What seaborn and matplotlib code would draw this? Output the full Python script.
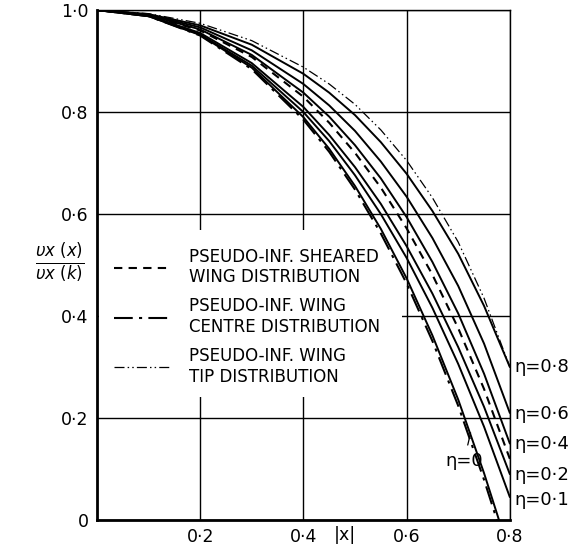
import numpy as np
import pandas as pd
import seaborn as sns
import matplotlib.pyplot as plt
import matplotlib.patches as patches

# abscissae
x_full = [0, 0.1, 0.2, 0.3, 0.4, 0.45, 0.5, 0.55, 0.6, 0.65, 0.7, 0.75, 0.8]
x_centre = [0, 0.1, 0.2, 0.3, 0.4, 0.45, 0.5, 0.55, 0.6, 0.65, 0.7, 0.75, 0.775]
x_eta0 = [0, 0.1, 0.2, 0.3, 0.4, 0.45, 0.5, 0.55, 0.6, 0.65, 0.7, 0.75, 0.779]

# exact curves (solid)
eta_0 = [1.0, 0.988, 0.951, 0.887, 0.790, 0.728, 0.655, 0.571, 0.474, 0.362, 0.236, 0.092, 0.0]
eta_01 = [1.0, 0.988, 0.952, 0.891, 0.800, 0.743, 0.676, 0.600, 0.514, 0.416, 0.306, 0.183, 0.045]
eta_02 = [1.0, 0.989, 0.955, 0.896, 0.810, 0.755, 0.692, 0.620, 0.537, 0.444, 0.339, 0.222, 0.090]
eta_04 = [1.0, 0.990, 0.962, 0.912, 0.838, 0.791, 0.735, 0.670, 0.594, 0.506, 0.405, 0.287, 0.150]
eta_06 = [1.0, 0.991, 0.966, 0.921, 0.855, 0.813, 0.763, 0.703, 0.634, 0.553, 0.459, 0.346, 0.210]
eta_08 = [1.0, 0.992, 0.970, 0.932, 0.875, 0.838, 0.794, 0.741, 0.679, 0.606, 0.522, 0.420, 0.300]

# pseudo-infinite distributions
sheared = [1.0, 0.990, 0.960, 0.908, 0.830, 0.779, 0.720, 0.652, 0.572, 0.481, 0.376, 0.257, 0.120]
centre = [1.0, 0.988, 0.950, 0.884, 0.785, 0.722, 0.648, 0.562, 0.464, 0.351, 0.224, 0.079, 0.0]
tip = [1.0, 0.993, 0.974, 0.940, 0.888, 0.855, 0.815, 0.765, 0.705, 0.632, 0.545, 0.435, 0.300]

eta_labels = ['η=0·8', 'η=0·6', 'η=0·4', 'η=0·2', 'η=0·1']
eta_label_y = [0.300, 0.208, 0.149, 0.088, 0.040]

legend_labels = ['PSEUDO-INF. SHEARED\nWING DISTRIBUTION',
                 'PSEUDO-INF. WING\nCENTRE DISTRIBUTION',
                 'PSEUDO-INF. WING\nTIP DISTRIBUTION']

x_ticks = [0.2, 0.4, 0.6, 0.8]
x_ticklabels = ['0·2', '0·4', '0·6', '0·8']
y_ticks = [0, 0.2, 0.4, 0.6, 0.8, 1.0]
y_ticklabels = ['0', '0·2', '0·4', '0·6', '0·8', '1·0']

sns.set_style('white')
plt.rcParams['font.family'] = ['DejaVu Sans']
plt.rcParams['text.color'] = 'black'
plt.rcParams['xtick.color'] = 'black'
plt.rcParams['ytick.color'] = 'black'

fig = plt.figure(figsize=(5.84, 5.46), dpi=100)
ax = fig.add_axes([0.166, 0.0476, 0.707, 0.934])

solid = [(x_eta0, eta_0), (x_full, eta_01), (x_full, eta_02),
         (x_full, eta_04), (x_full, eta_06), (x_full, eta_08)]
for xs, ys in solid:
    sns.lineplot(x=xs, y=ys, ax=ax, color='black', lw=1.4, sort=False, zorder=3)

sns.lineplot(x=x_full, y=sheared, ax=ax, color='black', lw=1.5, sort=False, zorder=3)
ax.lines[-1].set_dashes([4, 3])
sns.lineplot(x=x_centre, y=centre, ax=ax, color='black', lw=1.5, sort=False, zorder=3)
ax.lines[-1].set_dashes([9, 3, 1.5, 3])
sns.lineplot(x=x_full, y=tip, ax=ax, color='black', lw=0.9, sort=False, zorder=3)
ax.lines[-1].set_dashes([8, 2.5, 1.2, 2.5, 1.2, 2.5])
pseudo_lines = ax.lines[-3:]

ax.set_xlim(0, 0.8)
ax.set_ylim(0, 1.0)
ax.set_xticks(x_ticks)
ax.set_xticklabels(x_ticklabels)
ax.set_yticks(y_ticks)
ax.set_yticklabels(y_ticklabels)
ax.tick_params(length=0, labelsize=12.5, pad=6)
ax.grid(True, color='black', lw=1.0)
ax.set_axisbelow(True)
for side in ['left', 'bottom']:
    ax.spines[side].set_linewidth(2.0)
for side in ['top', 'right']:
    ax.spines[side].set_linewidth(1.0)
for sp in ax.spines.values():
    sp.set_color('black')
ax.set_xlabel('')
ax.set_ylabel('')

# blank area behind the key (grid is broken there in the original)
ax.add_patch(patches.Rectangle((0.006, 0.241), 0.732, 0.328, transform=ax.transAxes,
                               facecolor='white', edgecolor='none', zorder=1))

ax.text(0.48, -0.012, '|x|', ha='center', va='top', fontsize=12.5, clip_on=False)

ax.text(-0.072, 0.505, r'$\frac{\upsilon x\ (x)}{\upsilon x\ (k)}$', ha='center', va='center',
        fontsize=17, clip_on=False)

for lab, yv in zip(eta_labels, eta_label_y):
    ax.text(0.808, yv, lab, ha='left', va='center', fontsize=13, clip_on=False)

ax.annotate('η=0', xy=(0.724, 0.171), xytext=(0.711, 0.115), ha='center', va='center',
            fontsize=13, arrowprops=dict(arrowstyle='-', color='black', lw=0.9,
                                         shrinkA=3, shrinkB=0))

leg = ax.legend(pseudo_lines, legend_labels, loc='upper left', bbox_to_anchor=(-0.015, 0.58),
                frameon=False, handlelength=3.4, handletextpad=1.1, labelspacing=0.65,
                fontsize=12, borderpad=0.9)
leg.set_zorder(2)

fig.savefig('out.png', dpi=100)
